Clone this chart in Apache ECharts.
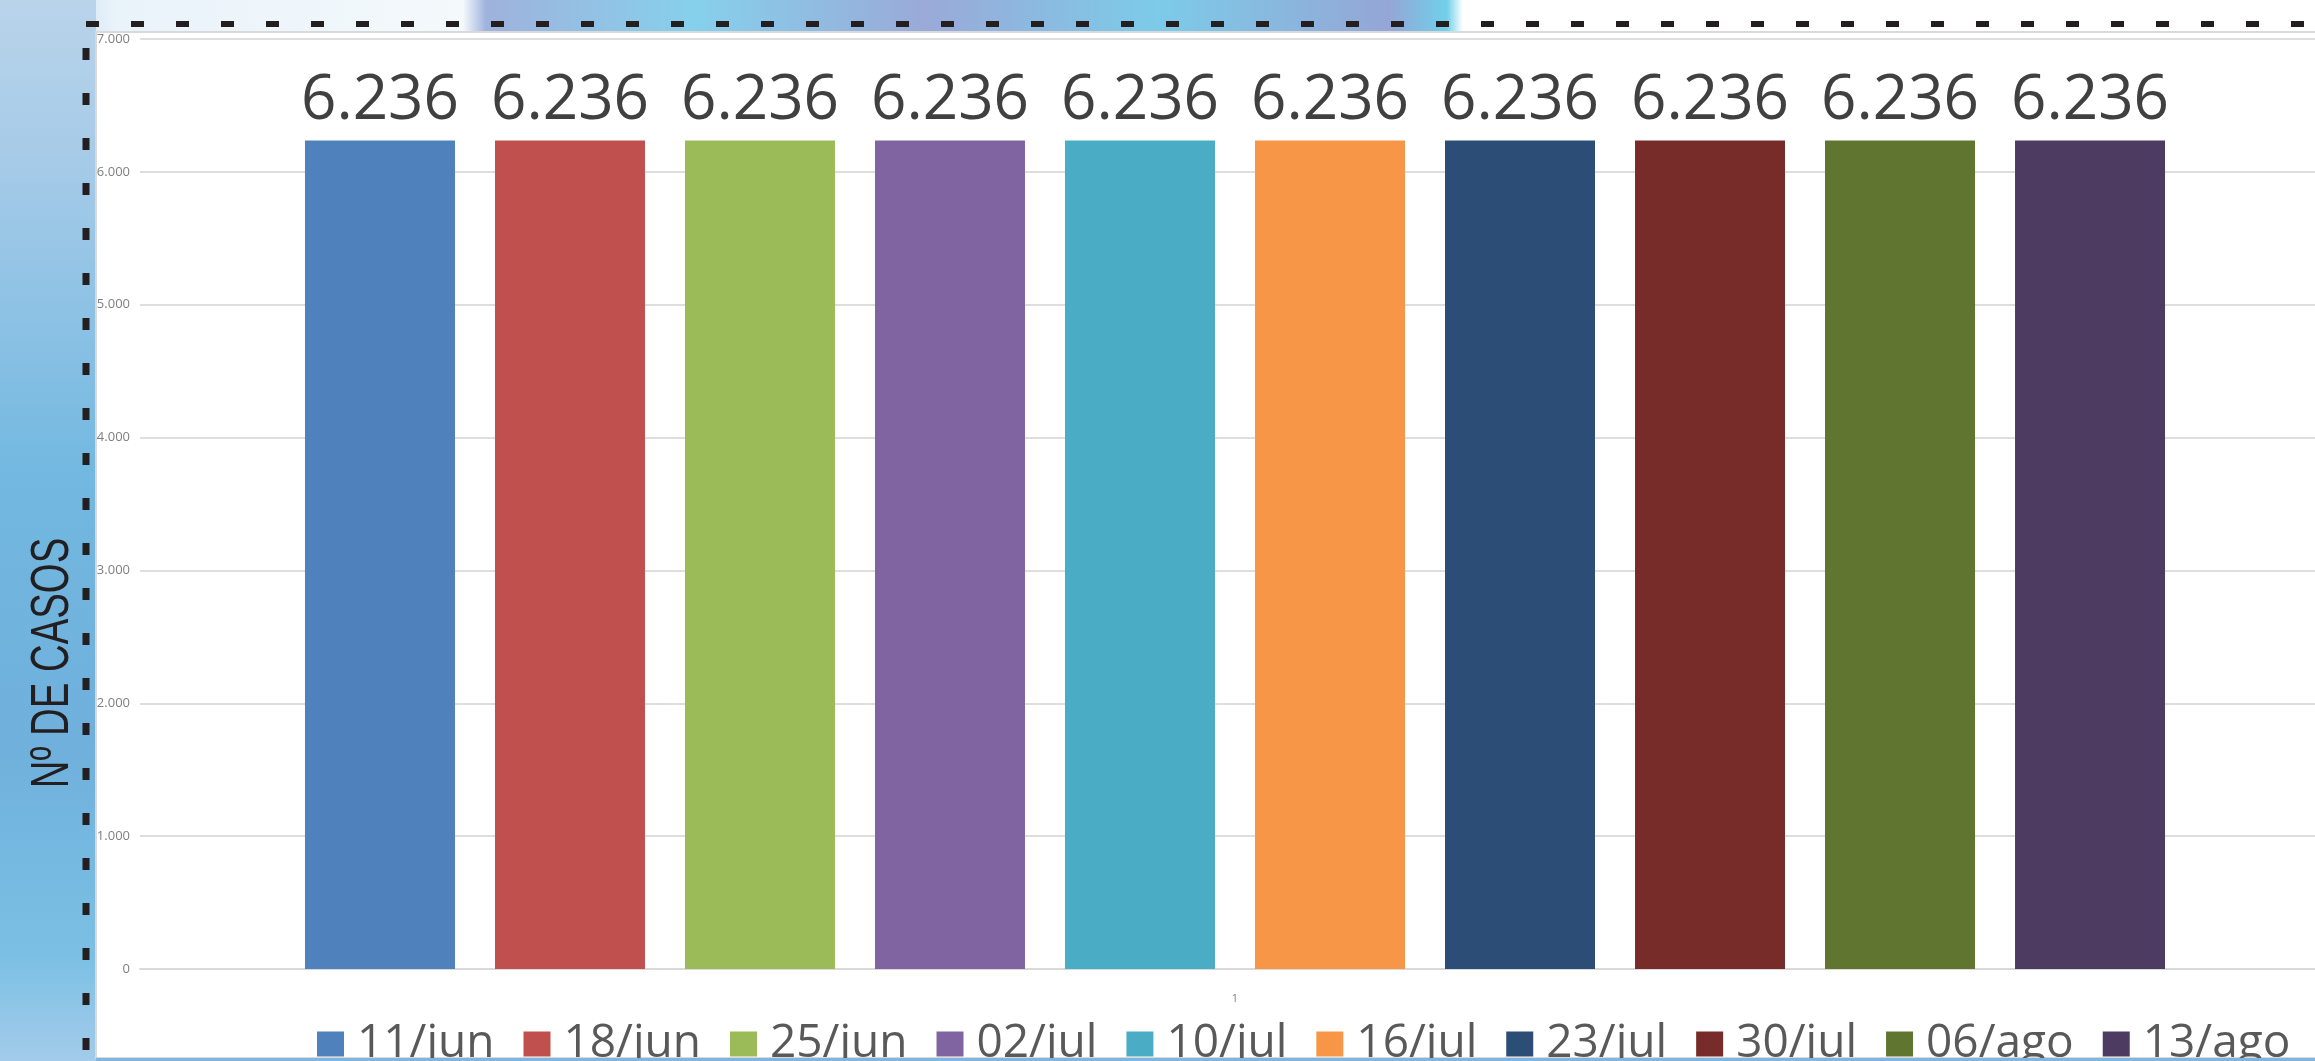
<!DOCTYPE html>
<html>
<head>
<meta charset="utf-8">
<script src="https://cdn.jsdelivr.net/npm/echarts@6/dist/echarts.min.js"></script>
<style>html,body{margin:0;padding:0;background:#fff;}#c{width:2315px;height:1061px;}</style>
</head>
<body>
<div id="c"></div>
<script>
var categories = ['1'];
var seriesNames = ['11/jun','18/jun','25/jun','02/jul','10/jul','16/jul','23/jul','30/jul','06/ago','13/ago'];
var seriesValues = [6236, 6236, 6236, 6236, 6236, 6236, 6236, 6236, 6236, 6236];
var seriesColors = ['#4f81bd','#c0504d','#9bbb59','#8064a2','#4bacc6','#f79646','#2c4d75','#772c2a','#5f7530','#4d3b62'];
var yTicks = [0, 1000, 2000, 3000, 4000, 5000, 6000, 7000];
var yTitle = 'Nº DE CASOS';

function fmt(v) {
  return String(v).replace(/\B(?=(\d{3})+(?!\d))/g, '.');
}

var chart = echarts.init(document.getElementById('c'), null, {renderer: 'canvas'});

var series = seriesNames.map(function (name, i) {
  return {
    name: name,
    type: 'bar',
    data: [seriesValues[i]],
    barWidth: 150,
    barGap: '26.67%',
    itemStyle: {color: seriesColors[i]},
    label: {
      show: true,
      position: 'top',
      distance: 8,
      formatter: function (p) { return fmt(p.value); },
      fontFamily: 'Open Sans',
      fontSize: 62,
      color: '#404040'
    }
  };
});

var option = {
  animation: false,
  backgroundColor: '#ffffff',
  graphic: [
    {type: 'rect', z: -10, shape: {x: 0, y: 0, width: 2315, height: 32},
      style: {fill: {type: 'linear', x: 0, y: 0, x2: 1, y2: 0, colorStops: [
        {offset: 0, color: '#a9cbe6'}, {offset: 0.05, color: '#e9f3fa'}, {offset: 0.2, color: '#f4f9fc'},
        {offset: 0.21, color: '#9fb2dc'}, {offset: 0.3, color: '#86d0ec'}, {offset: 0.4, color: '#9aa9d8'},
        {offset: 0.5, color: '#7ccbe8'}, {offset: 0.6, color: '#95a6d6'}, {offset: 0.625, color: '#6fd0ea'},
        {offset: 0.632, color: '#ffffff'}, {offset: 1, color: '#ffffff'}]}}},
    {type: 'rect', z: -10, shape: {x: 0, y: 0, width: 96, height: 1061},
      style: {fill: {type: 'linear', x: 0, y: 0, x2: 0, y2: 1, colorStops: [
        {offset: 0, color: '#b9d3ea'}, {offset: 0.15, color: '#a6cbe8'}, {offset: 0.45, color: '#72b8e0'},
        {offset: 0.7, color: '#6fb0dc'}, {offset: 0.9, color: '#7bc0e4'}, {offset: 1, color: '#a3cbea'}]}}},
    {type: 'rect', z: -9, shape: {x: 96, y: 32, width: 2230, height: 1026},
      style: {fill: '#ffffff', stroke: '#d9d9d9', lineWidth: 2}},
    {type: 'rect', z: 20, shape: {x: 96, y: 1058, width: 2219, height: 3},
      style: {fill: '#7fb5df'}},
    {type: 'line', z: 10, shape: {x1: 86, y1: 24, x2: 2315, y2: 24},
      style: {stroke: '#231f20', lineWidth: 6, lineDash: [13, 32]}},
    {type: 'line', z: 10, shape: {x1: 86, y1: 48, x2: 86, y2: 1061},
      style: {stroke: '#231f20', lineWidth: 7, lineDash: [12, 33]}},
    {type: 'text', z: 10, x: 53, y: 663, rotation: Math.PI / 2, scaleX: 0.71, scaleY: 1,
      style: {text: yTitle, fontFamily: 'Liberation Sans, Arial, sans-serif', fontSize: 54,
        fill: '#231f20', align: 'center', verticalAlign: 'middle'}}
  ],
  legend: {
    data: seriesNames,
    left: 317,
    top: 1021,
    width: 2000,
    padding: 0,
    itemWidth: 27,
    itemHeight: 25,
    itemGap: 29,
    icon: 'rect',
    textStyle: {fontFamily: 'Open Sans', fontSize: 46, color: '#595959', padding: [0, 0, 0, 8]}
  },
  grid: {left: 140, width: 2190, top: 39, bottom: 92, containLabel: false, outerBoundsMode: 'none'},
  xAxis: {
    type: 'category',
    data: categories,
    axisLine: {show: true, lineStyle: {color: '#d9d9d9', width: 2}},
    axisTick: {show: false},
    axisLabel: {fontFamily: 'Open Sans', fontSize: 11, color: '#7f7f7f', margin: 24}
  },
  yAxis: {
    type: 'value',
    min: yTicks[0],
    max: yTicks[yTicks.length - 1],
    interval: yTicks[1] - yTicks[0],
    axisLine: {show: false},
    axisTick: {show: false},
    splitLine: {lineStyle: {color: '#dedede', width: 2}},
    axisLabel: {fontFamily: 'Open Sans', fontSize: 13, color: '#7f7f7f', margin: 10,
      formatter: function (v) { return fmt(v); }}
  },
  series: series
};
chart.setOption(option);
</script>
</body>
</html>
